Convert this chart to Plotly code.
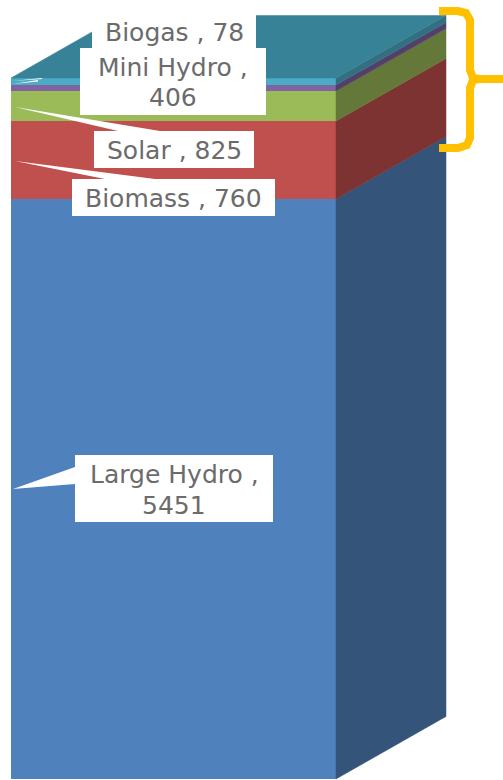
import plotly.graph_objects as go

# Data (drawn segment heights; labels keep the chart's own wording)
categories = ["Large Hydro", "Biomass", "Solar", "Mini Hydro", "Biogas"]
drawn_values = [5451, 733, 282, 56, 66]
label_lines = [["Large Hydro ,", "5451"], ["Biomass , 760"], ["Solar , 825"], ["Mini Hydro ,", "406"], ["Biogas , 78"]]
front_colors = ["#4F81BD", "#C0504D", "#9BBB59", "#8064A2", "#4BACC6"]
side_colors = ["#345479", "#7C3331", "#647839", "#523F6A", "#326F80"]
top_color = "#388297"

W, H = 503, 780
PX_PER_UNIT = 580 / 5451
BASE_PX = 779
FRONT_L, FRONT_R = 11, 336
DEPTH_X = 110
DEPTH_UNITS = 62.5 / PX_PER_UNIT

fig = go.Figure()

bottom = 0
for name, v, c, sc in zip(categories, drawn_values, front_colors, side_colors):
    fig.add_trace(go.Bar(x=[(FRONT_L + FRONT_R) / 2], y=[v], base=[bottom], width=[FRONT_R - FRONT_L],
                         marker=dict(color=c, line=dict(width=0)), name=name, showlegend=False))
    t = bottom + v
    fig.add_trace(go.Scatter(
        x=[FRONT_R, FRONT_R + DEPTH_X, FRONT_R + DEPTH_X, FRONT_R, FRONT_R],
        y=[bottom, bottom + DEPTH_UNITS, t + DEPTH_UNITS, t, bottom],
        mode="lines", fill="toself", fillcolor=sc, line=dict(width=0.5, color=sc),
        showlegend=False, hoverinfo="skip"))
    bottom = t

fig.add_trace(go.Scatter(
    x=[FRONT_L, FRONT_R, FRONT_R + DEPTH_X, FRONT_L + DEPTH_X, FRONT_L],
    y=[bottom, bottom, bottom + DEPTH_UNITS, bottom + DEPTH_UNITS, bottom],
    mode="lines", fill="toself", fillcolor=top_color, line=dict(width=0.5, color=top_color),
    showlegend=False, hoverinfo="skip"))

def P(points, close=True):
    d = "M " + " L ".join(f"{x},{1 - y / H:.5f}" for x, y in points)
    return d + " Z" if close else d

shapes = []
# Callout wedges
for pts in [
    [(13, 489), (75, 467), (75, 484)],
    [(15, 161), (105, 179), (155, 179)],
    [(15, 107), (118, 131), (160, 131)],
    [(13, 81), (42, 78), (42, 79)],
    [(13, 84), (38, 80), (38, 81.5)],
]:
    shapes.append(dict(type="path", xref="x", yref="paper", path=P(pts), fillcolor="white",
                       line=dict(width=0), layer="above"))

# Label boxes
boxes = [(75, 273, 455, 522), (72, 275, 179, 216), (94, 254, 131, 168), (80, 266, 48, 115), (92, 256, 0, 48)]
for x0, x1, y0, y1 in boxes:
    shapes.append(dict(type="path", xref="x", yref="paper",
                       path=P([(x0, y0), (x1, y0), (x1, y1), (x0, y1)]),
                       fillcolor="white", line=dict(width=0), layer="above"))

# Orange brace
brace_upper = [(439, 11), (458, 11), (466, 13), (470, 20), (470, 70), (473, 78), (480, 79), (503, 79)]
brace_lower = [(480, 79), (473, 80), (470, 88), (470, 138), (467, 145), (458, 148), (439, 148)]
for b in (brace_upper, brace_lower):
    shapes.append(dict(type="path", xref="x", yref="paper", path=P(b, close=False),
                       line=dict(color="#FFC000", width=8), fillcolor="rgba(0,0,0,0)", layer="above"))

# Text line centres in the picture
line_centres = [[475, 505], [198], [150], [67, 97], [33]]
annotations = []
for (x0, x1, _, _), lines, centres in zip(boxes, label_lines, line_centres):
    for line, cy in zip(lines, centres):
        annotations.append(dict(x=(x0 + x1) / 2, y=1 - cy / H, xref="x", yref="paper",
                                xanchor="center", yanchor="middle", text=line, showarrow=False,
                                font=dict(family="DejaVu Sans, sans-serif", size=25, color="#6B6B6B")))

fig.update_layout(
    width=W, height=H, margin=dict(l=0, r=0, t=0, b=0),
    paper_bgcolor="white", plot_bgcolor="white", barmode="overlay",
    shapes=shapes, annotations=annotations, showlegend=False,
    xaxis=dict(range=[0, W], visible=False, fixedrange=True),
    yaxis=dict(range=[(BASE_PX - H) / PX_PER_UNIT, BASE_PX / PX_PER_UNIT], visible=False, fixedrange=True),
)
fig.write_html("out.html", config=dict(displayModeBar=False),
               post_script="document.documentElement.style.overflow='hidden';document.body.style.margin='0';")
